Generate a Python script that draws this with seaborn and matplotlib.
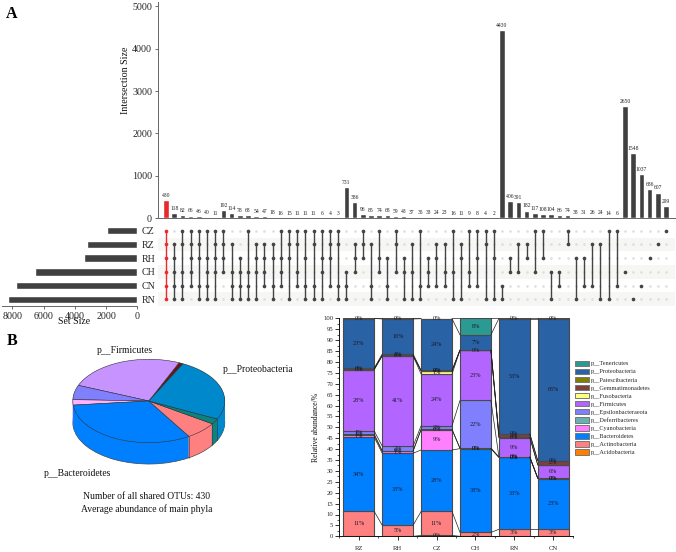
import numpy as np
import pandas as pd
import matplotlib
matplotlib.use('Agg')
import matplotlib.pyplot as plt
from matplotlib.patches import Patch
import seaborn as sns

W, H = 676, 552

# UpSet data
sets = ['CZ', 'RZ', 'RH', 'CH', 'CN', 'RN']
set_sizes = [1960, 3240, 3400, 6570, 7780, 8300]
sizes = [430, 118, 82, 66, 46, 40, 11, 192, 114, 78, 68, 54, 47, 18, 16, 15, 11, 11, 11, 6, 4, 3,
         731, 386, 96, 85, 74, 68, 59, 43, 37, 35, 33, 24, 23, 16, 11, 9, 8, 4, 2,
         4430, 406, 391, 182, 117, 108, 104, 86, 74, 38, 31, 26, 24, 14, 6,
         2650, 1548, 1037, 686, 607, 299]
members = ['CZ RZ RH CH CN RN',
           'RZ RH CH CN RN', 'CZ RZ CH CN RN', 'CZ RZ RH CH CN', 'CZ RZ RH CN RN', 'CZ RH CH CN RN', 'CZ RZ RH CH RN',
           'CZ RZ RH CH', 'RZ CH CN RN', 'RH CH CN RN', 'CZ CH CN RN', 'RZ RH CH RN', 'RZ RH CH CN', 'RZ RH CN RN',
           'CZ RH CH CN', 'CZ RZ RH RN', 'CZ RZ CH CN', 'CZ RH CN RN', 'CZ RZ CN RN', 'CZ RH CH RN', 'CZ RZ RH CN', 'CZ RZ CN RN',
           'CH CN RN', 'RZ RH CH', 'CZ RZ RH', 'RZ CN RN', 'CZ RH CH', 'RH CN RN', 'CZ RZ CH', 'RH CH RN', 'RZ CH RN',
           'CZ CN RN', 'RH CH CN', 'RZ RH CN', 'RZ CH CN', 'CZ CH RN', 'RZ RH RN', 'CZ CH CN', 'CZ RH CN', 'CZ RZ RN', 'CZ RH RN',
           'CN RN', 'RH CH', 'RZ CH', 'RZ RH', 'CZ CH', 'CZ RH', 'CH RN', 'CH CN', 'CZ RZ', 'RH RN', 'RH CN', 'RZ CN', 'RZ RN', 'CZ RN', 'CZ CN',
           'CH', 'RN', 'CN', 'RH', 'RZ', 'CZ']

# Pie data (average abundance, %)
pie_names = ['p__Gemmatimonadetes', 'p__Firmicutes', 'p__Epsilonbacteraeota', 'p__Cyanobacteria',
             'p__Bacteroidetes', 'p__Actinobacteria', 'p__Tenericutes', 'p__Proteobacteria']
pie_vals = [0.9, 25.4, 5.6, 2.1, 32.3, 6.9, 2.1, 24.7]
pie_cols = ['#6E1414', '#C693FF', '#8080FF', '#FFB3FF', '#0080FF', '#FF8080', '#0B8480', '#0088CC']

# Stacked bar data, bottom to top
phyla = ['p__Acidobacteria', 'p__Actinobacteria', 'p__Bacteroidetes', 'p__Cyanobacteria',
         'p__Deferribacteres', 'p__Epsilonbacteraeota', 'p__Firmicutes', 'p__Fusobacteria',
         'p__Gemmatimonadetes', 'p__Patescibacteria', 'p__Proteobacteria', 'p__Tenericutes']
phyla_cols = ['#FF8000', '#FF8080', '#0080FF', '#FF80FF', '#66B2B2', '#8080FF',
              '#B266FF', '#FFFF80', '#804040', '#808000', '#2962A5', '#2A9A93']
groups = ['RZ', 'RH', 'CZ', 'CH', 'RN', 'CN']
rz_vals = [0, 11.4, 34.1, 0.8, 0.6, 1.4, 28.2, 0, 0.4, 0.2, 22.8, 0.1]
rh_vals = [0, 5.1, 33.0, 1.0, 0.1, 2.2, 41.4, 0, 0.2, 0.6, 16.1, 0.3]
cz_vals = [0.4, 11.0, 28.2, 9.3, 0.2, 1.6, 23.7, 1.4, 0.2, 0.1, 23.7, 0.1]
ch_vals = [0, 1.8, 38.4, 0.1, 0.1, 21.9, 23.0, 0, 0.2, 0, 6.9, 7.6]
rn_vals = [0, 3.2, 33.0, 0.1, 0.1, 0.1, 8.8, 0.1, 1.5, 0.1, 52.9, 0.1]
cn_vals = [0, 3.2, 23.3, 0.1, 0, 0.1, 6.0, 0, 1.9, 0.1, 65.2, 0.1]
group_vals = [rz_vals, rh_vals, cz_vals, ch_vals, rn_vals, cn_vals]

sns.set_theme(style='ticks', font='Liberation Serif')
plt.rcParams['font.family'] = ['Liberation Serif', 'DejaVu Serif']
plt.rcParams['axes.linewidth'] = 0.7


def box(l, t, r, b):
    return [l / W, 1 - b / H, (r - l) / W, (b - t) / H]


fig = plt.figure(figsize=(W / 100, H / 100), dpi=100)


def ptext(x, y, s, **kw):
    kw.setdefault('ha', 'center')
    kw.setdefault('va', 'center')
    kw.setdefault('color', '#111111')
    fig.text(x / W, 1 - y / H, s, **kw)


# intersection bars
ax_top = fig.add_axes(box(158.3, 2, 675, 218.3))
cols = np.arange(len(sizes))
sns.barplot(x=cols, y=sizes, native_scale=True, color='#404040', saturation=1, width=0.68, ax=ax_top)
ax_top.patches[0].set_facecolor('#E8282B')
ax_top.bar_label(ax_top.containers[0], labels=[str(v) for v in sizes], fontsize=4.1, padding=1.5, color='#222222')
ax_top.set_xlim(-0.94, 62.1)
ax_top.set_ylim(0, 5100)
ax_top.set_yticks([0, 1000, 2000, 3000, 4000, 5000])
ax_top.set_xticks([])
ax_top.set_xlabel('')
ax_top.set_ylabel('')
ax_top.tick_params(axis='y', labelsize=7.2, length=2.5, width=0.6, pad=2, color='#555555')
sns.despine(ax=ax_top)
for s in ['left', 'bottom']:
    ax_top.spines[s].set_color('#666666')

# membership matrix
ax_mat = fig.add_axes(box(158.3, 223.85, 675, 306.15))
for r in [1, 3, 5]:
    ax_mat.axhspan(r - 0.5, r + 0.5, color='#F6F6F4', lw=0, zorder=0)
grid = pd.DataFrame([(c, r) for c in cols for r in range(len(sets))], columns=['col', 'row'])
sns.scatterplot(data=grid, x='col', y='row', color='#DEDEDE', s=3.5, linewidth=0, ax=ax_mat, zorder=1)
for c, m in zip(cols, members):
    rows = [sets.index(n) for n in m.split()]
    col = '#EE2A2E' if c == 0 else '#444444'
    if len(rows) > 1:
        ax_mat.plot([c, c], [min(rows), max(rows)], color=col, lw=1.0, zorder=2)
    sns.scatterplot(x=[c] * len(rows), y=rows, color=col, s=7, linewidth=0, ax=ax_mat, zorder=3)
ax_mat.set_xlim(-0.94, 62.1)
ax_mat.set_ylim(5.5, -0.5)
ax_mat.set_xlabel('')
ax_mat.set_ylabel('')
ax_mat.axis('off')

# set sizes
ax_set = fig.add_axes(box(1.7, 223.85, 137.3, 306.15))
sns.barplot(x=set_sizes, y=sets, order=sets, orient='h', color='#404040', saturation=1, width=0.55, ax=ax_set)
ax_set.set_xlim(8690, 0)
ax_set.set_ylim(5.5, -0.5)
ax_set.set_xticks([8000, 6000, 4000, 2000, 0])
ax_set.yaxis.tick_right()
ax_set.tick_params(axis='y', length=0, labelsize=7.2, pad=3)
ax_set.tick_params(axis='x', labelsize=7.2, length=2.5, width=0.6, pad=1.5, color='#555555')
ax_set.set_xlabel('')
ax_set.set_ylabel('')
sns.despine(ax=ax_set, left=True)
ax_set.spines['right'].set_visible(False)
ax_set.spines['bottom'].set_color('#666666')

# 3D looking pie
ax_pie = fig.add_axes(box(65.2, 355.1, 232.4, 471.9))
depth = 0.511
start = 63.3
for d in np.linspace(depth, 0.01, 28):
    ax_pie.pie(pie_vals, colors=pie_cols, startangle=start, center=(0, -d), radius=1,
               wedgeprops={'edgecolor': '#444444' if d == depth else 'none', 'linewidth': 0.5})
wedges, _ = ax_pie.pie(pie_vals, colors=pie_cols, startangle=start, center=(0, 0), radius=1,
                       wedgeprops={'edgecolor': '#333333', 'linewidth': 0.4})
for w in wedges:
    t = w.theta2 % 360
    if 190 < t < 360:
        ax_pie.plot([np.cos(np.radians(t))] * 2,
                    [np.sin(np.radians(t)), np.sin(np.radians(t)) - depth],
                    color='#333333', lw=0.4)
ax_pie.set_aspect('auto')
ax_pie.set_xlim(-1.1, 1.1)
ax_pie.set_ylim(-1.7, 1.1)
ax_pie.axis('off')

# stacked bars
ax_st = fig.add_axes(box(339.3, 318.3, 572.7, 536.3))
df = pd.DataFrame({'group': np.repeat(groups, len(phyla)),
                   'phylum': phyla * len(groups),
                   'value': np.concatenate(group_vals)})
sns.histplot(data=df, x='group', weights='value', hue='phylum', hue_order=phyla[::-1],
             palette=dict(zip(phyla, phyla_cols)), multiple='stack', discrete=True, shrink=0.795,
             alpha=1, edgecolor='#4A4A4A', linewidth=0.8, legend=False, ax=ax_st)
cum = np.cumsum(np.array(group_vals), axis=1)
half = 0.795 / 2
for g in range(len(groups) - 1):
    for k in range(len(phyla)):
        ax_st.plot([g + half, g + 1 - half], [cum[g, k], cum[g + 1, k]], color='#222222', lw=0.5, zorder=1)
for g, vals in enumerate(group_vals):
    bottom = 0
    for v in vals:
        if v > 0:
            ax_st.text(g, bottom + v / 2, f'{round(v)}%', fontsize=4.4, ha='center', va='center', color='#1A1A2A')
        bottom += v
ax_st.set_xlim(-0.5, 5.5)
ax_st.set_ylim(0, 100)
ax_st.set_yticks(np.arange(0, 101, 5))
ax_st.set_yticks(np.arange(2.5, 100, 5), minor=True)
ax_st.set_xticks(range(len(groups)))
ax_st.set_xticklabels(groups)
ax_st.set_xticks(np.arange(-0.5, 6, 1), minor=True)
ax_st.tick_params(axis='both', which='major', labelsize=4.8, length=2.8, width=0.6, pad=1.5, color='#111111')
ax_st.tick_params(axis='both', which='minor', length=1.5, width=0.5, color='#111111')
ax_st.tick_params(axis='x', pad=4)
ax_st.set_xlabel('')
ax_st.set_ylabel('')
sns.despine(ax=ax_st)
ax_st.spines['left'].set_color('#111111')
ax_st.spines['bottom'].set_color('#111111')

handles = [Patch(facecolor=c, edgecolor='#777777', linewidth=0.7) for c in phyla_cols[::-1]]
ax_st.legend(handles, phyla[::-1], loc='upper left', bbox_to_anchor=((575 - 339.3) / 233.4, 1 - (360.5 - 318.3) / 218),
             frameon=False, fontsize=4.5, handlelength=2.2, handleheight=1.0, labelspacing=0.34,
             handletextpad=0.35, borderaxespad=0, borderpad=0)

# text
ptext(125, 80, 'Intersection Size', fontsize=7.2, rotation=90)
ptext(74, 322, 'Set Size', fontsize=7)
ptext(316, 427, 'Relative abundance/%', fontsize=5.6, rotation=90)
ptext(12, 14, 'A', fontsize=11.5, fontweight='bold', color='black')
ptext(12, 341, 'B', fontsize=11.5, fontweight='bold', color='black')
ptext(125, 350.7, 'p__Firmicutes', fontsize=6.9)
ptext(258, 369, 'p__Proteobacteria', fontsize=6.9)
ptext(77, 474, 'p__Bacteroidetes', fontsize=6.9)
ptext(147, 496.7, 'Number of all shared OTUs: 430', fontsize=6.9)
ptext(147, 509, 'Average abundance of main phyla', fontsize=6.9)

fig.savefig('out.png', dpi=100)
